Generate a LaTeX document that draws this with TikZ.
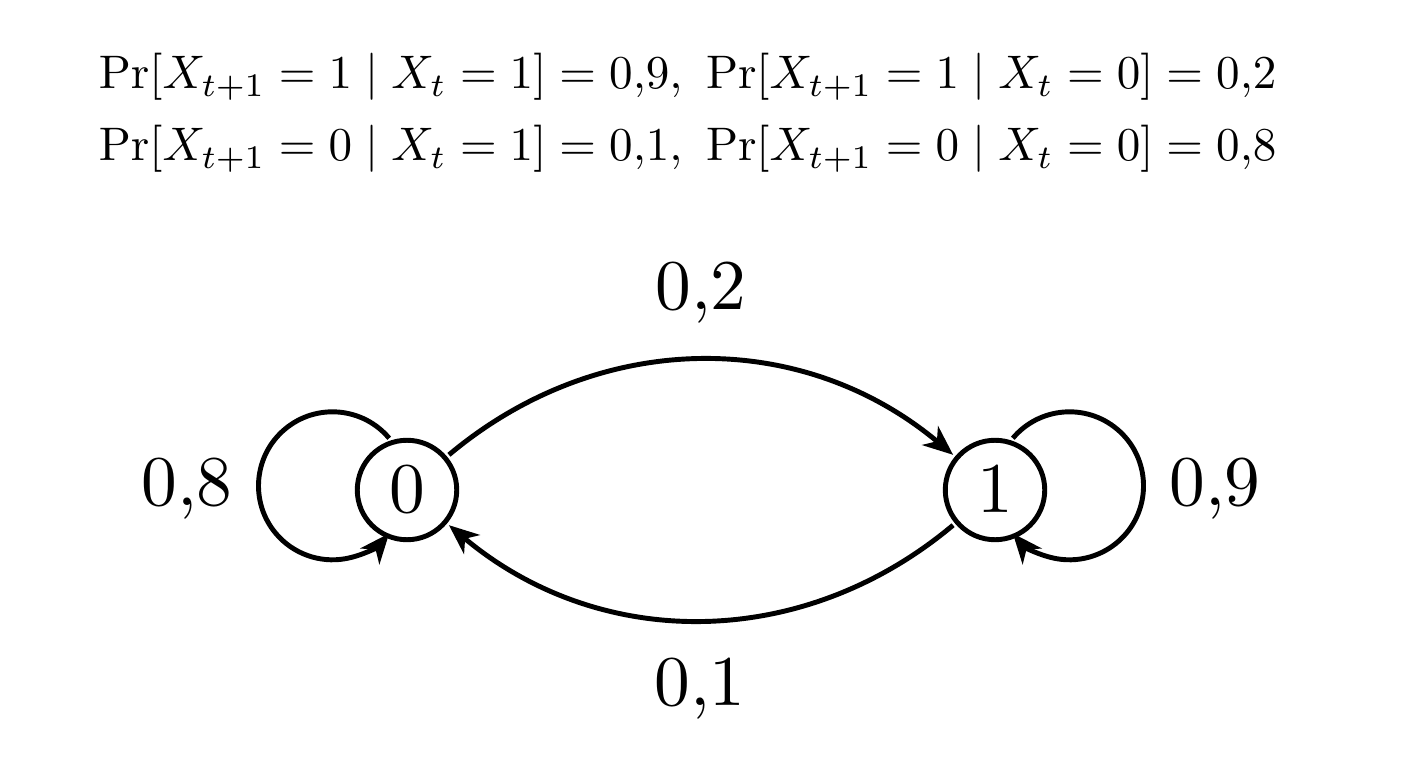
\documentclass[tikz,border=0pt]{standalone}
\usepackage{amsmath}
\usetikzlibrary{arrows.meta,positioning}

\begin{document}
\begin{tikzpicture}[
    state/.style={draw,circle,line width=1.4pt,minimum size=0.49cm,inner sep=0pt,
      scale=2.03,transform shape,font=\fontsize{10}{12}\selectfont},
    edge/.style={line width=1.4pt,-{Stealth[length=8.5pt,width=7pt,inset=2.5pt]}},
    prob/.style={font=\fontsize{10}{12}\selectfont,scale=2.03,transform shape,
      anchor=base,inner sep=0pt},
    eqn/.style={font=\fontsize{10}{12}\selectfont,scale=1.34,transform shape,
      anchor=base west,inner sep=0pt}]
  \useasboundingbox (0,0) rectangle (14.07,7.65);
  % transition table
  \node[eqn] (eqa) at (0.98,6.76)
    {$\Pr[X_{t+1} = 1 \mid X_t = 1] = 0{,}9,\ \Pr[X_{t+1} = 1 \mid X_t = 0] = 0{,}2$};
  \node[eqn] (eqb) at (0.98,6.04)
    {$\Pr[X_{t+1} = 0 \mid X_t = 1] = 0{,}1,\ \Pr[X_{t+1} = 0 \mid X_t = 0] = 0{,}8$};
  % states
  \node[state] (s0) at (4.07,2.75) {$0$};
  \node[state] (s1) at (9.95,2.75) {$1$};
  % transitions
  \draw[edge] (s0) to[out=40,in=140] (s1);
  \draw[edge] (s1) to[out=220,in=320] (s0);
  \draw[edge] (s0.109) arc[start angle=40,end angle=320,radius=0.74];
  \draw[edge] (s1.71) arc[start angle=140,end angle=-140,radius=0.74];
  % probabilities
  \node[prob] (p02) at (7.01,4.55) {$0{,}2$};
  \node[prob] (p10) at (7.00,0.60) {$0{,}1$};
  \node[prob] (p00) at (1.87,2.60) {$0{,}8$};
  \node[prob] (p11) at (12.15,2.60) {$0{,}9$};
\end{tikzpicture}
\end{document}
